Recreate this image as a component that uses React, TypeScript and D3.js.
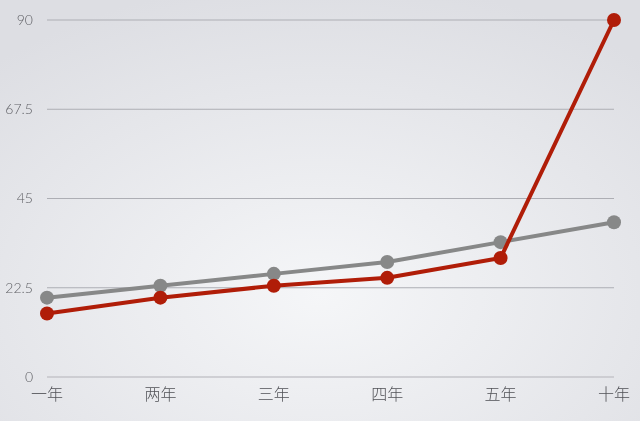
import React from "react";
import * as d3 from "d3";

const categories = ["一年", "两年", "三年", "四年", "五年", "十年"];
const grayValues = [20, 23, 26, 29, 34, 39];
const redValues = [16, 20, 23, 25, 30, 90];
const yTicks = [0, 22.5, 45, 67.5, 90];

const W = 640;
const H = 421;

export default function App() {
  const x = d3
    .scalePoint<string>()
    .domain(categories)
    .range([47, 614]);
  const y = d3.scaleLinear().domain([0, 90]).range([377, 20]);

  const line = d3
    .line<number>()
    .x((_d, i) => x(categories[i]) as number)
    .y((d) => y(d));

  const series = [
    { values: grayValues, color: "#878888" },
    { values: redValues, color: "#b01d08" },
  ];

  return (
    <div style={{ position: "fixed", left: 0, top: 0, width: W, height: H }}>
      <svg width={W} height={H} style={{ display: "block" }}>
        <defs>
          <radialGradient id="bg" cx="50%" cy="70%" r="75%">
            <stop offset="0%" stopColor="#f5f6f8" />
            <stop offset="100%" stopColor="#dddee3" />
          </radialGradient>
        </defs>
        <rect width={W} height={H} fill="url(#bg)" />
        {yTicks.map((t) => (
          <g key={t}>
            <line
              x1={47}
              x2={614}
              y1={y(t)}
              y2={y(t)}
              stroke={t === 0 ? "#c4c5ca" : "#adaeb4"}
              strokeWidth={t === 0 ? 1.5 : 1}
            />
            <text
              x={33}
              y={y(t)}
              dy="0.35em"
              textAnchor="end"
              fontFamily="Lato, 'Noto Sans', sans-serif"
              fontWeight={300}
              fontSize={14}
              fill="#606166"
            >
              {t}
            </text>
          </g>
        ))}
        {categories.map((c) => (
          <text
            key={c}
            x={x(c)}
            y={394}
            dy="0.35em"
            textAnchor="middle"
            fontFamily="'Noto Sans CJK SC', sans-serif"
            fontWeight={300}
            fontSize={16}
            fill="#505156"
          >
            {c}
          </text>
        ))}
        {series.map((s, si) => (
          <g key={si}>
            <path
              d={line(s.values) ?? ""}
              fill="none"
              stroke={s.color}
              strokeWidth={4}
              strokeLinejoin="round"
            />
            {s.values.map((v, i) => (
              <circle
                key={i}
                cx={x(categories[i])}
                cy={y(v)}
                r={7}
                fill={s.color}
              />
            ))}
          </g>
        ))}
      </svg>
    </div>
  );
}
